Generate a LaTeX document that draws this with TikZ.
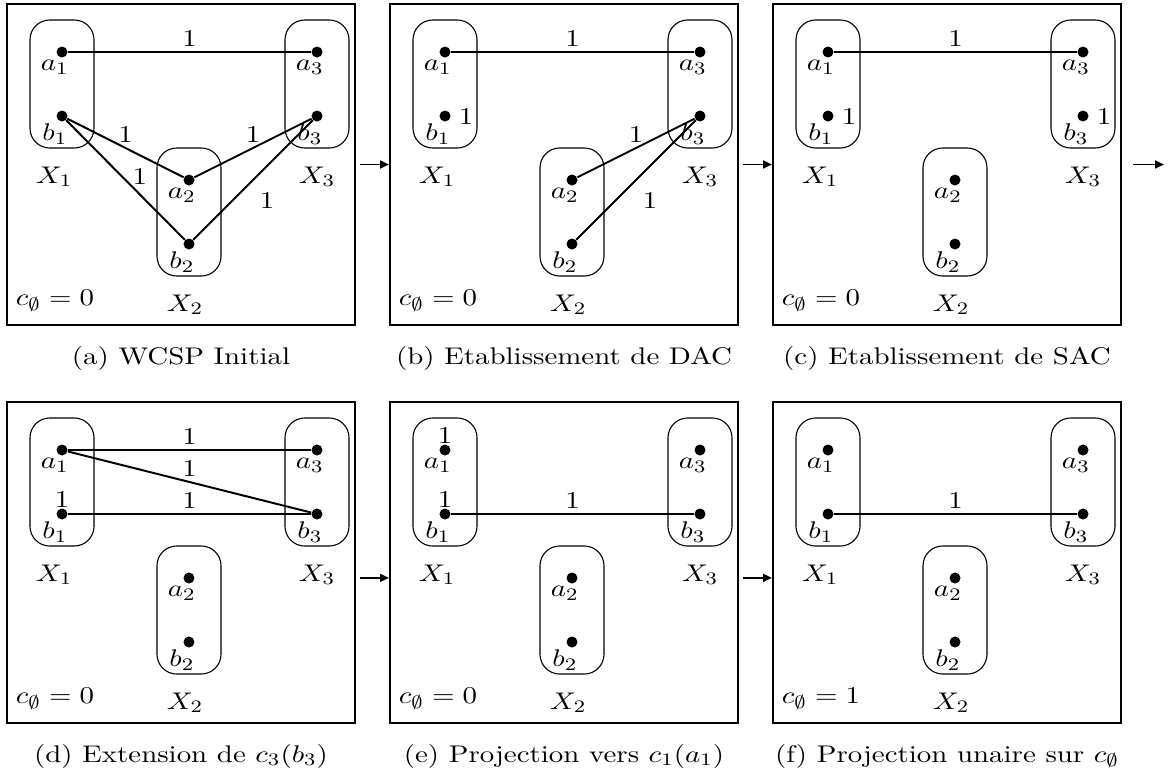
\documentclass[tikz,border=0pt]{standalone}
\usepackage{amsmath, amssymb}
\usepackage{tikz}
\usetikzlibrary{arrows.meta, positioning}

% one WCSP panel: frame, domains, values, c_empty and caption
\newcommand{\wcsp}[5]{%
  \begin{scope}[shift={(#2,#3)}]
    \node[panel] (#1) at (174,160.5) {};
    % domains
    \node[dom, label={[dlab, xshift=-3pt]below:$X_1$}] (#1X1) at (55,80) {};
    \node[dom, label={[dlab, xshift=-1.5pt]below:$X_2$}] (#1X2) at (182,208) {};
    \node[dom, label={[dlab]below:$X_3$}] (#1X3) at (310,80) {};
    % values
    \node[vtx=$a_1$] (#1a1) at (55,48) {};
    \node[vtx=$b_1$] (#1b1) at (55,112) {};
    \node[vtx=$a_2$] (#1a2) at (182,176) {};
    \node[vtx=$b_2$] (#1b2) at (182,240) {};
    \node[vtx=$a_3$] (#1a3) at (310,48) {};
    \node[vtx=$b_3$] (#1b3) at (310,112) {};
    \node[txt] (#1c0) at (48,297) {$c_\emptyset = #4$};
    \node[txt] (#1cap) at (174,354) {#5};
  \end{scope}}

\begin{document}
\begin{tikzpicture}[
    x=0.4545pt, y=-0.4545pt,
    txt/.style={xscale=1.2, font=\fontsize{10.95}{13.6}\selectfont},
    panel/.style={draw, line width=0.9pt, minimum width=158.2pt,
      minimum height=145.9pt, inner sep=0pt},
    dom/.style={draw, line width=0.5pt, rounded corners=9pt,
      minimum width=29.1pt, minimum height=58.2pt, inner sep=0pt},
    vlab/.style={txt, inner sep=0pt, label distance=0.8pt, xshift=-2.7pt},
    dlab/.style={txt, inner sep=0pt, label distance=8pt},
    vtx/.style={circle, fill, inner sep=0pt, minimum size=5pt,
      label={[vlab]below:#1}},
    cons/.style={line width=0.9pt},
    cost/.style={txt, inner sep=2pt},
    flow/.style={line width=0.9pt, shorten <=2pt,
      -{Triangle[length=4pt, width=3.5pt]}},
  ]
    \useasboundingbox (0,0) rectangle (1171,771);
    % (a) initial problem
    \wcsp{pa}{7}{4}{0}{(a) WCSP Initial}
    \draw[cons] (paa1) -- node[cost, above] {1} (paa3);
    \draw[cons] (pab1) -- node[cost, above] {1} (paa2);
    \draw[cons] (pab1) -- node[cost, pos=.55, above right, inner sep=0pt] {1} (pab2);
    \draw[cons] (paa2) -- node[cost, above] {1} (pab3);
    \draw[cons] (pab2) -- node[cost, pos=.47, below right, inner sep=3.5pt] {1} (pab3);
    % (b) DAC
    \wcsp{pb}{390}{4}{0}{(b) Etablissement de DAC}
    \draw[cons] (pba1) -- node[cost, above] {1} (pba3);
    \draw[cons] (pba2) -- node[cost, above] {1} (pbb3);
    \draw[cons] (pbb2) -- node[cost, pos=.47, below right, inner sep=3.5pt] {1} (pbb3);
    \node[cost, right=1pt of pbb1] (pbu1) {1};
    % (c) SAC
    \wcsp{pc}{773}{4}{0}{(c) Etablissement de SAC}
    \draw[cons] (pca1) -- node[cost, above] {1} (pca3);
    \node[cost, right=1pt of pcb1] (pcu1) {1};
    \node[cost, right=1pt of pcb3] (pcu3) {1};
    % (d) extension
    \wcsp{pd}{7}{402}{0}{(d) Extension de $c_3(b_3)$}
    \draw[cons] (pda1) -- node[cost, above] {1} (pda3);
    \draw[cons] (pda1) -- node[cost, above] {1} (pdb3);
    \draw[cons] (pdb1) -- node[cost, above] {1} (pdb3);
    \node[cost, inner sep=0pt, above=0pt of pdb1] (pdu1) {1};
    % (e) projection to c_1
    \wcsp{pe}{390}{402}{0}{(e) Projection vers $c_1(a_1)$}
    \draw[cons] (peb1) -- node[cost, above] {1} (peb3);
    \node[cost, inner sep=0pt, above=0pt of pea1] (peu0) {1};
    \node[cost, inner sep=0pt, above=0pt of peb1] (peu1) {1};
    % (f) projection to c_empty
    \wcsp{pf}{773}{402}{1}{(f) Projection unaire sur $c_\emptyset$}
    \draw[cons] (pfb1) -- node[cost, above] {1} (pfb3);
    % steps
    \coordinate (next) at (1164,164.5);
    \draw[flow] (pa) -- (pb);
    \draw[flow] (pb) -- (pc);
    \draw[flow, shorten <=5pt] (pc.east) -- (next);
    \draw[flow] ([yshift=-7pt]pd.east) -- ([yshift=-7pt]pe.west);
    \draw[flow] ([yshift=-7pt]pe.east) -- ([yshift=-7pt]pf.west);
\end{tikzpicture}
\end{document}
